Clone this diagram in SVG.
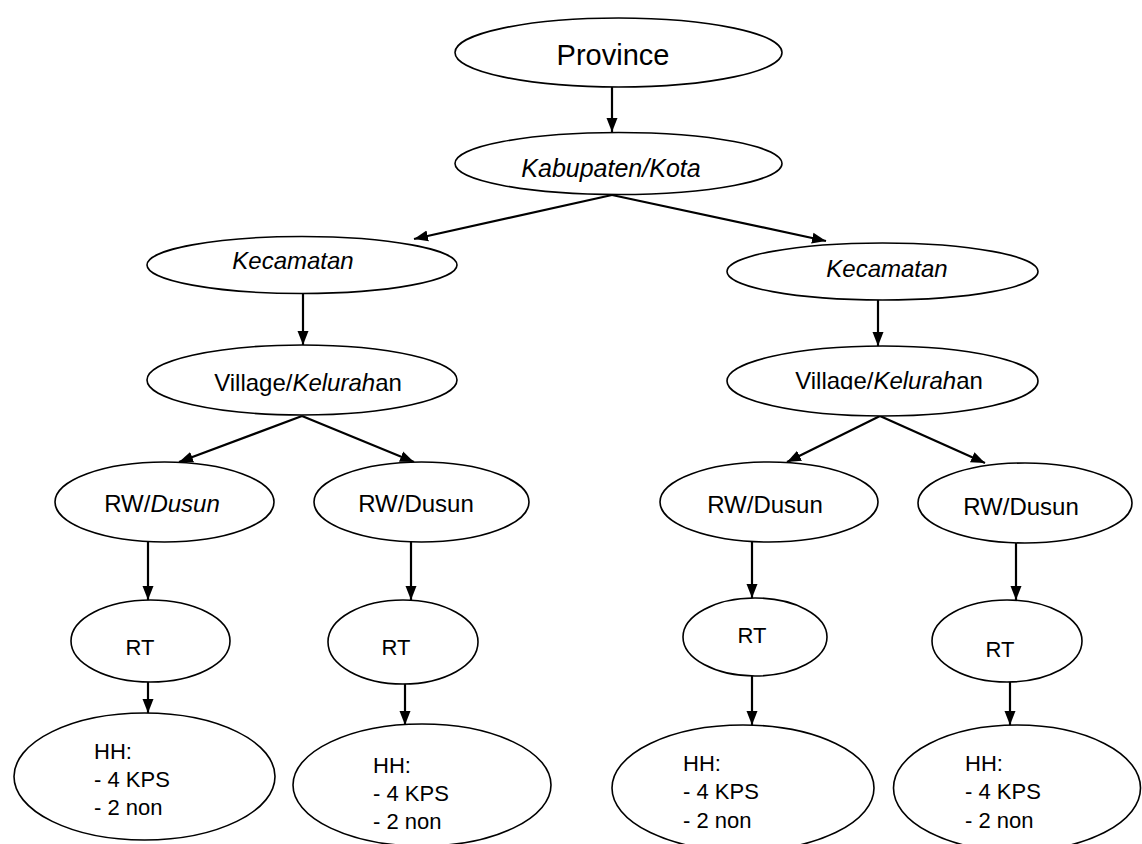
<svg xmlns="http://www.w3.org/2000/svg" width="1142" height="844" viewBox="0 0 1142 844">
<style>
.n{fill:#fff;stroke:#000;stroke-width:1.6}
.t{font-family:"Liberation Sans",Arial,sans-serif;fill:#000}
.c{text-anchor:middle}
.i{font-style:italic}
.e{stroke:#000;stroke-width:2.2;fill:none;marker-end:url(#ah)}
</style>
<defs>
<marker id="ah" markerUnits="userSpaceOnUse" markerWidth="14" markerHeight="14" viewBox="0 0 14 14" refX="14" refY="7" orient="auto">
<path d="M0,1.5 L14,7 L0,12.5 Z" fill="#000"/>
</marker>
<clipPath id="clipK1"><rect x="150" y="240" width="300" height="31"/></clipPath>
<clipPath id="clipK2"><rect x="730" y="246" width="300" height="32"/></clipPath>
<clipPath id="clipV2"><rect x="730" y="350" width="300" height="39.5"/></clipPath>
</defs>
<rect width="1142" height="844" fill="#fff"/>
<g id="connectors">
<line class="e" x1="612" y1="87" x2="612" y2="132"/>
<line class="e" x1="612" y1="195" x2="414" y2="239"/>
<line class="e" x1="612" y1="195" x2="826" y2="241"/>
<line class="e" x1="303" y1="293" x2="303" y2="345"/>
<line class="e" x1="878" y1="300" x2="878" y2="346"/>
<line class="e" x1="302" y1="416" x2="179" y2="462"/>
<line class="e" x1="302" y1="416" x2="414" y2="462"/>
<line class="e" x1="880" y1="416" x2="787" y2="462"/>
<line class="e" x1="880" y1="416" x2="985" y2="463"/>
<line class="e" x1="148" y1="542" x2="148" y2="600"/>
<line class="e" x1="411" y1="542" x2="411" y2="600"/>
<line class="e" x1="752" y1="542" x2="752" y2="598"/>
<line class="e" x1="1016" y1="543" x2="1016" y2="600"/>
<line class="e" x1="148" y1="682" x2="148" y2="713"/>
<line class="e" x1="405" y1="684" x2="405" y2="725"/>
<line class="e" x1="752" y1="676" x2="752" y2="725"/>
<line class="e" x1="1010" y1="682" x2="1010" y2="725"/>
</g>
<g id="province">
<ellipse class="n" cx="618.5" cy="52.5" rx="163.5" ry="34.5"/>
<text class="t c" x="613" y="65" font-size="29">Province</text>
</g>
<g id="kabupaten">
<ellipse class="n" cx="618.5" cy="163.5" rx="163.5" ry="31"/>
<text class="t c i" x="611" y="177" font-size="25">Kabupaten/Kota</text>
</g>
<g id="kecamatan1">
<ellipse class="n" cx="302" cy="265" rx="155" ry="28.5"/>
<text class="t c i" x="293" y="269" font-size="24" clip-path="url(#clipK1)">Kecamatan</text>
</g>
<g id="kecamatan2">
<ellipse class="n" cx="882.5" cy="271.5" rx="155.5" ry="28.5"/>
<text class="t c i" x="887" y="277" font-size="24" clip-path="url(#clipK2)">Kecamatan</text>
</g>
<g id="village1">
<ellipse class="n" cx="302" cy="380" rx="155" ry="35"/>
<text class="t c" x="308" y="391" font-size="24">Village/<tspan class="i">Kelurah</tspan>an</text>
</g>
<g id="village2">
<ellipse class="n" cx="882.5" cy="381" rx="155.5" ry="35"/>
<text class="t c" x="889" y="389" font-size="24" clip-path="url(#clipV2)">Village/<tspan class="i">Kelurah</tspan>an</text>
</g>
<g id="rw1">
<ellipse class="n" cx="164.5" cy="502" rx="109.5" ry="40"/>
<text class="t c" x="162" y="512" font-size="24">RW/<tspan class="i">Dusun</tspan></text>
</g>
<g id="rw2">
<ellipse class="n" cx="421.5" cy="502" rx="107.5" ry="40"/>
<text class="t c" x="416" y="512" font-size="24">RW/Dusun</text>
</g>
<g id="rw3">
<ellipse class="n" cx="769" cy="502" rx="109" ry="40"/>
<text class="t c" x="765" y="513" font-size="24">RW/Dusun</text>
</g>
<g id="rw4">
<ellipse class="n" cx="1025" cy="503" rx="107" ry="40"/>
<text class="t c" x="1021" y="515" font-size="24">RW/Dusun</text>
</g>
<g id="rt1">
<ellipse class="n" cx="150.5" cy="641" rx="79.5" ry="41"/>
<text class="t c" x="140" y="655" font-size="22">RT</text>
</g>
<g id="rt2">
<ellipse class="n" cx="403" cy="642" rx="75" ry="42"/>
<text class="t c" x="396" y="655" font-size="22">RT</text>
</g>
<g id="rt3">
<ellipse class="n" cx="755" cy="637" rx="72" ry="39"/>
<text class="t c" x="752" y="643" font-size="22">RT</text>
</g>
<g id="rt4">
<ellipse class="n" cx="1007" cy="641" rx="75" ry="41"/>
<text class="t c" x="1000" y="657" font-size="22">RT</text>
</g>
<g id="hh1">
<ellipse class="n" cx="144.5" cy="776.5" rx="130.5" ry="63.5"/>
<text class="t" font-size="22"><tspan x="94" y="759">HH:</tspan><tspan x="94" y="787">- 4 KPS</tspan><tspan x="94" y="815">- 2 non</tspan></text>
</g>
<g id="hh2">
<ellipse class="n" cx="422" cy="785" rx="129" ry="61"/>
<text class="t" font-size="22"><tspan x="373" y="773">HH:</tspan><tspan x="373" y="801">- 4 KPS</tspan><tspan x="373" y="829">- 2 non</tspan></text>
</g>
<g id="hh3">
<ellipse class="n" cx="743" cy="788" rx="131" ry="63"/>
<text class="t" font-size="22"><tspan x="683" y="771">HH:</tspan><tspan x="683" y="799">- 4 KPS</tspan><tspan x="683" y="828">- 2 non</tspan></text>
</g>
<g id="hh4">
<ellipse class="n" cx="1017" cy="788" rx="123.5" ry="63"/>
<text class="t" font-size="22"><tspan x="965" y="771">HH:</tspan><tspan x="965" y="799">- 4 KPS</tspan><tspan x="965" y="828">- 2 non</tspan></text>
</g>
</svg>
